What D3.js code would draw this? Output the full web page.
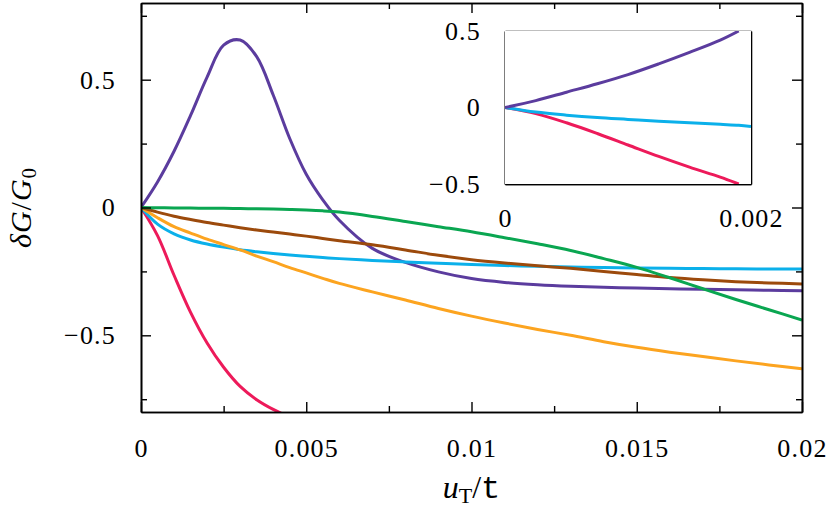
<!DOCTYPE html>
<html>
<head>
<meta charset="utf-8">
<script src="https://cdn.jsdelivr.net/npm/d3@7"></script>
<style>
body { margin: 0; background: #fff; }
</style>
</head>
<body>
<svg id="chart" width="831" height="512"></svg>
<script>
// main panel, delta G / G0 against u_T / t
var xGrid = [0, 0.0005, 0.001, 0.0015, 0.002, 0.0025, 0.003, 0.0035, 0.004, 0.0045, 0.005, 0.0055, 0.006,
    0.007, 0.008, 0.009, 0.01, 0.011, 0.012, 0.013, 0.014, 0.015, 0.016, 0.017, 0.018, 0.019, 0.02];
var purpleVals = [0, 0.10, 0.22, 0.36, 0.51, 0.635, 0.655, 0.59, 0.44, 0.27, 0.13, 0.03, -0.05,
    -0.16, -0.215, -0.252, -0.278, -0.293, -0.302, -0.308, -0.312, -0.315, -0.318, -0.32, -0.322, -0.324, -0.326];
var greenVals = [0, -0.001, -0.002, -0.002, -0.003, -0.003, -0.004, -0.005, -0.006, -0.008, -0.01, -0.013, -0.018,
    -0.035, -0.055, -0.075, -0.095, -0.118, -0.142, -0.168, -0.2, -0.234, -0.275, -0.318, -0.36, -0.4, -0.44];
var brownVals = [0, -0.018, -0.034, -0.047, -0.059, -0.069, -0.079, -0.088, -0.096, -0.104, -0.112, -0.121, -0.13,
    -0.146, -0.166, -0.187, -0.204, -0.217, -0.228, -0.238, -0.25, -0.262, -0.274, -0.283, -0.29, -0.295, -0.299];
var cyanVals = [0, -0.065, -0.103, -0.127, -0.143, -0.155, -0.165, -0.173, -0.18, -0.186, -0.191, -0.196, -0.2,
    -0.207, -0.213, -0.218, -0.223, -0.227, -0.23, -0.233, -0.235, -0.237, -0.238, -0.239, -0.24, -0.241, -0.241];
var orangeVals = [0, -0.04, -0.075, -0.1, -0.124, -0.145, -0.166, -0.19, -0.212, -0.235, -0.256, -0.277, -0.297,
    -0.33, -0.362, -0.395, -0.425, -0.452, -0.477, -0.5, -0.525, -0.547, -0.566, -0.583, -0.6, -0.616, -0.631];
var redVals = [0, -0.11, -0.265, -0.41, -0.53, -0.625, -0.70, -0.752, -0.79, -0.82];

// inset, first 0.002
var insetGrid = [0, 0.00025, 0.0005, 0.00075, 0.001, 0.00125, 0.0015, 0.00175, 0.0019, 0.002];
var insetPurple = [0, 0.045, 0.1, 0.155, 0.215, 0.285, 0.36, 0.44, 0.5, null];
var insetCyan = [0, -0.03, -0.05, -0.066, -0.078, -0.09, -0.1, -0.11, -0.116, -0.125];
var insetRed = [0, -0.04, -0.1, -0.17, -0.245, -0.32, -0.39, -0.455, -0.5, null];

var xMajor = [0, 0.005, 0.01, 0.015, 0.02];
var xMinor = [0.0025, 0.0075, 0.0125, 0.0175];
var yMajor = [-0.5, 0, 0.5];
var yMinor = [-0.75, -0.25, 0.25, 0.75];
var insetXLabels = [0, 0.002];
var insetXMid = [0.001];
var insetY = [-0.5, 0, 0.5];

var colors = {
    purple: "#5b3c9e", green: "#0aa651", brown: "#9c4a0c",
    cyan: "#0bb0ea", orange: "#fca420", red: "#ed1a5a"
};

var serif = "'Liberation Serif', 'DejaVu Serif'";
var svg = d3.select("#chart");
var margin = { left: 141, right: 29, top: 3, bottom: 100 };
var W = 831, H = 512;
var fmt = d3.format("~g");

var x = d3.scaleLinear().domain([0, 0.02]).range([margin.left, W - margin.right]);
var y = d3.scaleLinear().domain([-0.8, 0.8]).range([H - margin.bottom, margin.top]);

svg.append("clipPath").attr("id", "mainClip")
    .append("rect")
    .attr("x", x(0)).attr("y", y(0.8))
    .attr("width", x(0.02) - x(0)).attr("height", y(-0.8) - y(0.8));

function series(xs, ys) {
    return xs.map(function (d, i) { return [d, ys[i]]; }).filter(function (d) { return d[1] != null; });
}

var line = d3.line()
    .x(function (d) { return x(d[0]); })
    .y(function (d) { return y(d[1]); })
    .curve(d3.curveCatmullRom.alpha(0.5));

var mainSeries = [
    { c: colors.red, d: series(xGrid.slice(0, redVals.length), redVals) },
    { c: colors.purple, d: series(xGrid, purpleVals) },
    { c: colors.cyan, d: series(xGrid, cyanVals) },
    { c: colors.orange, d: series(xGrid, orangeVals) },
    { c: colors.brown, d: series(xGrid, brownVals) },
    { c: colors.green, d: series(xGrid, greenVals) }
];

var lines = svg.append("g").attr("clip-path", "url(#mainClip)");
mainSeries.forEach(function (s) {
    lines.append("path")
        .attr("d", line(s.d))
        .attr("fill", "none")
        .attr("stroke", s.c)
        .attr("stroke-width", 3)
        .attr("stroke-linejoin", "round");
});

// axes: ticks pointing inside on all four sides
function styleAxis(g) {
    g.selectAll("path.domain").attr("stroke", "#000").attr("stroke-width", 1.6);
    g.selectAll(".tick line").attr("stroke", "#000").attr("stroke-width", 1.4);
    g.selectAll(".tick text")
        .style("font-family", serif)
        .style("font-size", "26px")
        .style("letter-spacing", "1.2px")
        .attr("fill", "#000");
}

var axes = svg.append("g");
function addAxis(maker, scale, vals, size, labels, transform, pad) {
    var a = maker(scale).tickValues(vals).tickSizeInner(-size).tickSizeOuter(0).tickPadding(pad || 3);
    a.tickFormat(labels ? fmt : "");
    var g = axes.append("g").attr("transform", transform).call(a);
    styleAxis(g);
    return g;
}
var yb = y(-0.8), yt = y(0.8), xl = x(0), xr = x(0.02);
addAxis(d3.axisBottom, x, xMajor, 10, true, "translate(0," + yb + ")", 26.5);
addAxis(d3.axisBottom, x, xMinor, 6, false, "translate(0," + yb + ")");
addAxis(d3.axisTop, x, xMajor, 10, false, "translate(0," + yt + ")");
addAxis(d3.axisTop, x, xMinor, 6, false, "translate(0," + yt + ")");
addAxis(d3.axisLeft, y, yMajor, 10, true, "translate(" + xl + ",0)", 25);
addAxis(d3.axisLeft, y, yMinor, 6, false, "translate(" + xl + ",0)");
addAxis(d3.axisRight, y, yMajor, 10, false, "translate(" + xr + ",0)");
addAxis(d3.axisRight, y, yMinor, 6, false, "translate(" + xr + ",0)");

// inset panel
var ix = d3.scaleLinear().domain([0, 0.002]).range([505, 751]);
var iy = d3.scaleLinear().domain([-0.5, 0.5]).range([184, 31]);

svg.append("rect")
    .attr("x", ix(0)).attr("y", iy(0.5))
    .attr("width", ix(0.002) - ix(0)).attr("height", iy(-0.5) - iy(0.5))
    .attr("fill", "#fff");

svg.append("clipPath").attr("id", "insetClip")
    .append("rect")
    .attr("x", ix(0)).attr("y", iy(0.5))
    .attr("width", ix(0.002) - ix(0)).attr("height", iy(-0.5) - iy(0.5));

var iline = d3.line()
    .x(function (d) { return ix(d[0]); })
    .y(function (d) { return iy(d[1]); })
    .curve(d3.curveCatmullRom.alpha(0.5));

var insetSeries = [
    { c: colors.red, d: series(insetGrid, insetRed) },
    { c: colors.cyan, d: series(insetGrid, insetCyan) },
    { c: colors.purple, d: series(insetGrid, insetPurple) }
];
var ilines = svg.append("g").attr("clip-path", "url(#insetClip)");
insetSeries.forEach(function (s) {
    ilines.append("path")
        .attr("d", iline(s.d))
        .attr("fill", "none")
        .attr("stroke", s.c)
        .attr("stroke-width", 3)
        .attr("stroke-linejoin", "round");
});

var ib = iy(-0.5), it = iy(0.5), il = ix(0), ir = ix(0.002);
addAxis(d3.axisBottom, ix, insetXLabels, 0, true, "translate(0," + ib + ")", 24.5);
addAxis(d3.axisBottom, ix, insetXMid, 10, false, "translate(0," + ib + ")");
addAxis(d3.axisTop, ix, insetXMid, 10, false, "translate(0," + it + ")");
addAxis(d3.axisLeft, iy, insetY, 0, true, "translate(" + il + ",0)", 24);
addAxis(d3.axisLeft, iy, [0], 10, false, "translate(" + il + ",0)");
addAxis(d3.axisRight, iy, [0], 10, false, "translate(" + ir + ",0)");

// axis titles
var xt = svg.append("text")
    .attr("x", (xl + xr) / 2).attr("y", 498)
    .attr("text-anchor", "middle")
    .style("font-family", serif)
    .style("font-size", "32px");
xt.append("tspan").style("font-style", "italic").text("u");
xt.append("tspan").style("font-size", "22px").attr("dy", 5).text("T");
xt.append("tspan").attr("dy", -5).text("/");
xt.append("tspan").style("font-family", "'Liberation Mono', 'DejaVu Sans Mono'").text("t");

var yt2 = svg.append("text")
    .attr("transform", "translate(31," + ((yt + yb) / 2) + ") rotate(-90)")
    .attr("text-anchor", "middle")
    .style("font-family", serif)
    .style("font-size", "30px")
    .style("letter-spacing", "1px");
yt2.append("tspan").style("font-style", "italic").text("δG");
yt2.append("tspan").text("/");
yt2.append("tspan").style("font-style", "italic").text("G");
yt2.append("tspan").style("font-size", "21px").attr("dy", 5).text("0");
</script>
</body>
</html>
